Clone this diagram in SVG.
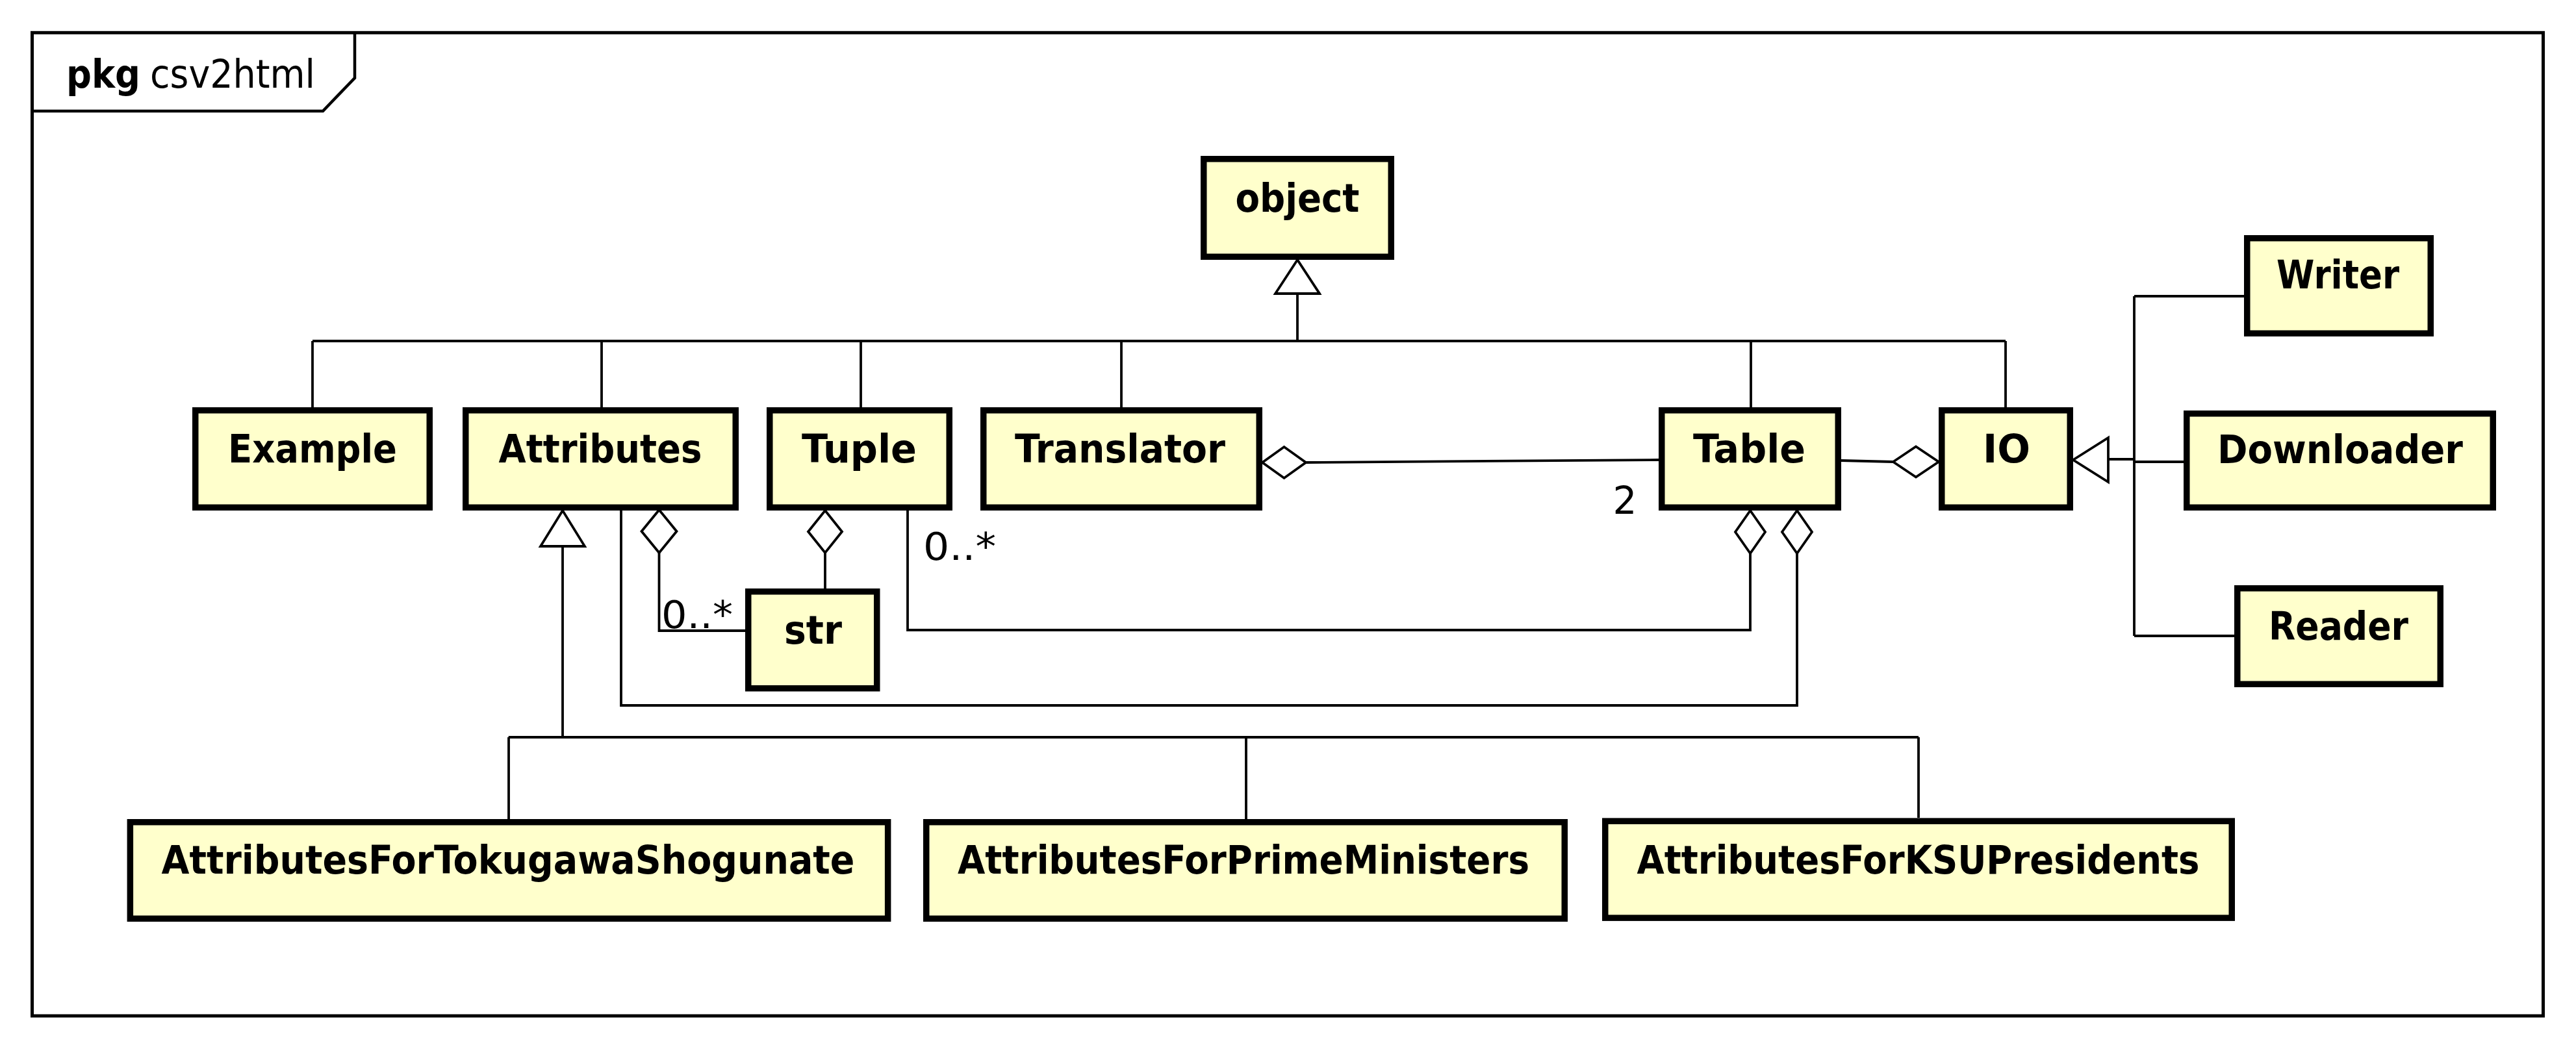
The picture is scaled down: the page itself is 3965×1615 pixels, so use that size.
<svg xmlns="http://www.w3.org/2000/svg" width="3965" height="1615" viewBox="0 0 3965 1615">
<style>
.frame{fill:none;stroke:#000;stroke-width:5}
.tab{fill:none;stroke:#000;stroke-width:4.5}
.box{fill:#FFFFCC;stroke:#000;stroke-width:9.5}
.name{font-family:'DejaVu Sans Condensed','DejaVu Sans',sans-serif;font-stretch:condensed;font-weight:bold;font-size:60px;text-anchor:middle;fill:#000}
.lbl{font-family:'DejaVu Sans','Liberation Sans',sans-serif;font-size:58px;fill:#000}
.ln{fill:none;stroke:#000;stroke-width:3.8}
.hd{fill:#fff;stroke:#000;stroke-width:3.8;stroke-linejoin:miter}
</style>
<rect x="0" y="0" width="3965" height="1615" fill="#fff"/>
<g id="frame">
<rect class="frame" x="49.5" y="50.3" width="3865" height="1513.7"/>
<path class="tab" d="M49.5 171 H497 L546 120 V50.3"/>
<text y="135" style="font-family:'DejaVu Sans Condensed','DejaVu Sans',sans-serif;font-stretch:condensed;font-size:60px;fill:#000"><tspan x="102" font-weight="bold" textLength="114" lengthAdjust="spacingAndGlyphs">pkg</tspan><tspan x="231" textLength="254" lengthAdjust="spacingAndGlyphs">csv2html</tspan></text>
</g>
<g id="connectors">
<path class="ln" d="M1997 452 V525 M481 525 H3087 M481 525 V627 M926 525 V627 M1325 525 V627 M1726 525 V627 M2695 525 V627 M3087 525 V627"/>
<path class="ln" d="M2010 712 L2553 708"/>
<path class="ln" d="M2834 709 L2914 711"/>
<path class="ln" d="M3245 707 H3285 M3285 456 V979 M3285 456 H3454 M3285 711 H3361 M3285 979 H3439"/>
<path class="ln" d="M866 841 V1135 M782.7 1135 H2953 M783 1135 V1261 M1918 1135 V1261 M2953 1135 V1259"/>
<path class="ln" d="M1014.5 851 V971 H1147"/>
<path class="ln" d="M1270 851 V906"/>
<path class="ln" d="M1397 786 V970 H2694 V852"/>
<path class="ln" d="M956 786 V1086 H2766 V852"/>
<polygon class="hd" points="1997,400 1963,452 2031,452"/>
<polygon class="hd" points="866,786 832,841 900,841"/>
<polygon class="hd" points="3191,708 3245,674 3245,742"/>
<polygon class="hd" points="1943,712 1976.5,688 2010,712 1976.5,736"/>
<polygon class="hd" points="2914,711 2949,687.5 2984,711 2949,734.5"/>
<polygon class="hd" points="1014.5,785 1041.5,818 1014.5,851 987.5,818"/>
<polygon class="hd" points="1270,786 1296,818.5 1270,851 1244,818.5"/>
<polygon class="hd" points="2694,786 2717,819 2694,852 2671,819"/>
<polygon class="hd" points="2766,786 2789,819 2766,852 2743,819"/>
<text class="lbl" x="1018" y="967" textLength="110" lengthAdjust="spacingAndGlyphs">0..*</text>
<text class="lbl" x="1421" y="862" textLength="112" lengthAdjust="spacingAndGlyphs">0..*</text>
<text class="lbl" x="2501" y="791" text-anchor="middle">2</text>
</g>
<g id="object"><rect class="box" x="1852.75" y="244.75" width="288.5" height="150.5"/><text class="name" x="1997" y="326" textLength="191" lengthAdjust="spacingAndGlyphs">object</text></g>
<g id="Example"><rect class="box" x="300.75" y="631.75" width="360.5" height="149.5"/><text class="name" x="481" y="712" textLength="260" lengthAdjust="spacingAndGlyphs">Example</text></g>
<g id="Attributes"><rect class="box" x="716.75" y="631.75" width="415.5" height="149.5"/><text class="name" x="924" y="712" textLength="313" lengthAdjust="spacingAndGlyphs">Attributes</text></g>
<g id="Tuple"><rect class="box" x="1184.75" y="631.75" width="276.5" height="149.5"/><text class="name" x="1322.5" y="712" textLength="177" lengthAdjust="spacingAndGlyphs">Tuple</text></g>
<g id="Translator"><rect class="box" x="1513.75" y="631.75" width="424.5" height="149.5"/><text class="name" x="1724" y="712" textLength="324" lengthAdjust="spacingAndGlyphs">Translator</text></g>
<g id="Table"><rect class="box" x="2557.75" y="631.75" width="271.5" height="149.5"/><text class="name" x="2692.5" y="712" textLength="173" lengthAdjust="spacingAndGlyphs">Table</text></g>
<g id="IO"><rect class="box" x="2988.75" y="631.75" width="197.5" height="149.5"/><text class="name" x="3088.5" y="712" textLength="73" lengthAdjust="spacingAndGlyphs">IO</text></g>
<g id="Writer"><rect class="box" x="3458.75" y="366.75" width="282.5" height="146.5"/><text class="name" x="3598.5" y="444" textLength="189" lengthAdjust="spacingAndGlyphs">Writer</text></g>
<g id="Downloader"><rect class="box" x="3365.75" y="636.75" width="471.5" height="144.5"/><text class="name" x="3602" y="713" textLength="378" lengthAdjust="spacingAndGlyphs">Downloader</text></g>
<g id="Reader"><rect class="box" x="3443.75" y="905.75" width="312.5" height="147.5"/><text class="name" x="3599.5" y="985" textLength="215" lengthAdjust="spacingAndGlyphs">Reader</text></g>
<g id="str"><rect class="box" x="1151.75" y="910.75" width="198" height="149"/><text class="name" x="1251.5" y="991" textLength="89" lengthAdjust="spacingAndGlyphs">str</text></g>
<g id="AttributesForTokugawaShogunate"><rect class="box" x="200.35" y="1265.75" width="1166.3" height="148.5"/><text class="name" x="782" y="1345" textLength="1067" lengthAdjust="spacingAndGlyphs">AttributesForTokugawaShogunate</text></g>
<g id="AttributesForPrimeMinisters"><rect class="box" x="1425.75" y="1265.75" width="982.5" height="148.5"/><text class="name" x="1914" y="1345" textLength="880" lengthAdjust="spacingAndGlyphs">AttributesForPrimeMinisters</text></g>
<g id="AttributesForKSUPresidents"><rect class="box" x="2470.75" y="1264.15" width="964.5" height="149"/><text class="name" x="2952.5" y="1345" textLength="866" lengthAdjust="spacingAndGlyphs">AttributesForKSUPresidents</text></g>
</svg>
